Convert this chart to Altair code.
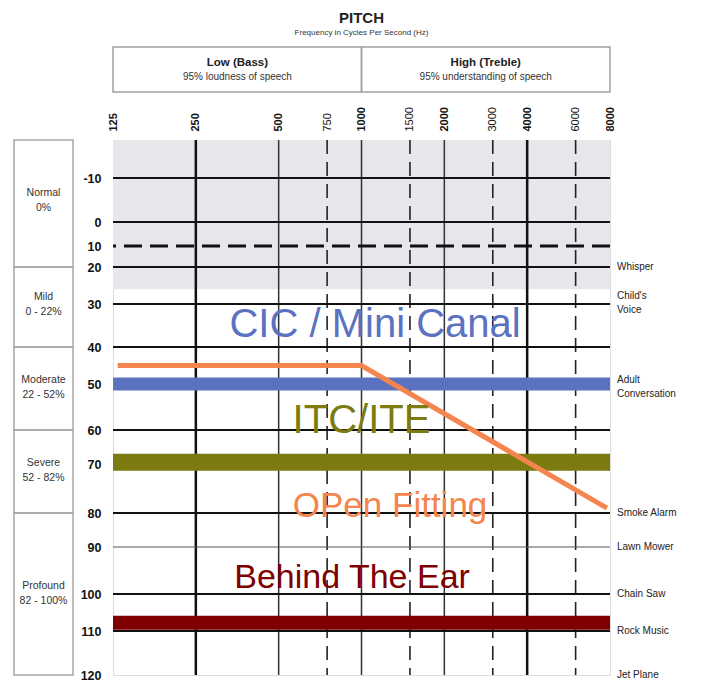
import altair as alt
import pandas as pd

# ---------------- data ----------------
freq_ticks = [125, 250, 500, 750, 1000, 1500, 2000, 3000, 4000, 6000, 8000]
freq_light = [750, 1500, 3000, 6000]
db_ticks = [-10, 0, 10, 20, 30, 40, 50, 60, 70, 80, 90, 100, 110, 120]

vgrid_thick = [250, 4000]
vgrid_thin = [500, 1000, 2000]
vgrid_dashed = [750, 1500, 3000, 6000]
hgrid_solid = [-10, 0, 20, 30, 40, 50, 60, 70, 80, 100, 110]
hgrid_thin = [90]
hgrid_dashed = [10]

shade_db = [-20, 26]

band_names = ["CIC / Mini Canal", "ITC/ITE", "Behind The Ear"]
band_db = [50, 69.5, 107.8]

open_fit_freq = [130, 1000, 7800]
open_fit_db = [45, 45, 79]

device_labels = ["CIC / Mini Canal", "ITC/ITE", "OPen Fitting", "Behind The Ear"]
device_label_freq = [1120, 1000, 1270, 924]
device_label_db = [34.8, 58, 78.5, 96.6]

right_labels = ["Whisper", "Child's\nVoice", "Adult\nConversation", "Smoke Alarm",
                "Lawn Mower", "Chain Saw", "Rock Music", "Jet Plane"]
right_db = [20, 27.8, 48.9, 80, 90, 100, 110, 120]

loss_names = ["Normal\n0%", "Mild\n0 - 22%", "Moderate\n22 - 52%",
              "Severe\n52 - 82%", "Profound\n82 - 100%"]
loss_top = [-20, 20, 40, 60, 80]
loss_bottom = [20, 40, 60, 80, 120]
loss_label_db = [-6.6, 28, 48.9, 69.7, 98.3]

header_titles = ["Low (Bass)", "High (Treble)"]
header_subs = ["95% loudness of speech", "95% understanding of speech"]
header_from = [125, 1000]
header_to = [1000, 8000]
header_center = [354, 2828]

title_text = "PITCH"
subtitle_text = "Frequency in Cycles Per Second (Hz)"

# ---------------- styling ----------------
BLUE = "#5b72c0"
OLIVE = "#7b7b0f"
ORANGE = "#f5854e"
DARKRED = "#7e0000"
band_colors = [BLUE, OLIVE, DARKRED]
band_widths = [13, 17, 14]
label_colors = [BLUE, OLIVE, ORANGE, DARKRED]
label_sizes = [40, 40, 35, 34]

W, H = 497, 535

xs = alt.Scale(type="log", base=2, domain=[125, 8000], nice=False)
ys = alt.Scale(
    domain=[-20, -10, 0, 10, 20, 30, 40, 50, 60, 70, 80, 90, 100, 110, 120],
    range=[0, 38, 82, 106, 127, 164, 207, 244, 290, 324, 373, 407, 454, 491, 535],
    zero=False, nice=False,
)

light_test = " || ".join(f"datum.value == {v}" for v in freq_light)
xaxis = alt.Axis(
    orient="top", values=freq_ticks, format="d", labelAngle=270, labelAlign="left",
    labelBaseline="middle", labelPadding=9, labelFontSize=11, labelColor="#111",
    labelFontWeight={"condition": {"test": light_test, "value": "normal"}, "value": "bold"},
    labelOverlap=False, labelFlush=False, domain=False, ticks=False, grid=False, title=None,
)
yaxis = alt.Axis(
    orient="left", values=db_ticks, labelExpr="'' + datum.value", labelPadding=12,
    labelFontSize=12.5, labelFontWeight="bold", labelColor="#111", labelOverlap=False,
    labelFlush=False, domain=False, ticks=False, grid=False, title=None,
)


def X(field, **kw):
    return alt.X(field, type="quantitative", scale=xs, axis=xaxis, **kw)


def Y(field, **kw):
    return alt.Y(field, type="quantitative", scale=ys, axis=yaxis, **kw)


layers = []

# shaded "normal hearing" zone
shade_df = pd.DataFrame({"f0": [125], "f1": [8000], "d0": [shade_db[0]], "d1": [shade_db[1]]})
layers.append(alt.Chart(shade_df).mark_rect(color="#e6e6eb").encode(
    x=X("f0"), x2="f1", y=Y("d0"), y2="d1"))

# grid lines
layers.append(alt.Chart(pd.DataFrame({"f": vgrid_thick})).mark_rule(
    color="#111", strokeWidth=2.5).encode(x=X("f")))
layers.append(alt.Chart(pd.DataFrame({"f": vgrid_thin})).mark_rule(
    color="#333", strokeWidth=1.5).encode(x=X("f")))
layers.append(alt.Chart(pd.DataFrame({"f": vgrid_dashed})).mark_rule(
    color="#222", strokeWidth=1.6, strokeDash=[14, 8]).encode(x=X("f")))
layers.append(alt.Chart(pd.DataFrame({"d": hgrid_solid})).mark_rule(
    color="#111", strokeWidth=2).encode(y=Y("d")))
layers.append(alt.Chart(pd.DataFrame({"d": hgrid_thin})).mark_rule(
    color="#555", strokeWidth=1).encode(y=Y("d")))
layers.append(alt.Chart(pd.DataFrame({"d": hgrid_dashed})).mark_rule(
    color="#111", strokeWidth=3, strokeDash=[18, 8]).encode(y=Y("d")))

# hearing aid bands
for name, db, col, sw in zip(band_names, band_db, band_colors, band_widths):
    bdf = pd.DataFrame({"f0": [125], "f1": [8000], "d": [db], "name": [name]})
    layers.append(alt.Chart(bdf).mark_rule(color=col, strokeWidth=sw).encode(
        x=X("f0"), x2="f1", y=Y("d")))

# open fitting line
of_df = pd.DataFrame({"f": open_fit_freq, "d": open_fit_db})
layers.append(alt.Chart(of_df).mark_line(color=ORANGE, strokeWidth=5).encode(
    x=X("f"), y=Y("d")))

# device labels
for txt, f, d, col, fs in zip(device_labels, device_label_freq, device_label_db,
                              label_colors, label_sizes):
    ldf = pd.DataFrame({"f": [f], "d": [d], "t": [txt]})
    layers.append(alt.Chart(ldf).mark_text(
        color=col, fontSize=fs, align="center", baseline="middle",
        font="Liberation Sans").encode(x=X("f"), y=Y("d"), text="t:N"))

# right-side sound examples
r_df = pd.DataFrame({"f": [8000] * len(right_labels), "d": right_db, "t": right_labels})
layers.append(alt.Chart(r_df).mark_text(
    align="left", baseline="middle", dx=7, fontSize=10, lineHeight=14,
    lineBreak="\n", color="#222").encode(x=X("f"), y=Y("d"), text="t:N"))

# left degree-of-loss boxes
lb_df = pd.DataFrame({"top": loss_top, "bot": loss_bottom})
layers.append(alt.Chart(lb_df).mark_rect(
    fillOpacity=0, stroke="#a8a8a8", strokeWidth=1.5).encode(
    x=alt.value(-99), x2=alt.value(-40), y=Y("top"), y2="bot"))
ll_df = pd.DataFrame({"d": loss_label_db, "t": loss_names})
layers.append(alt.Chart(ll_df).mark_text(
    align="center", baseline="middle", fontSize=10.5, lineHeight=15,
    lineBreak="\n", color="#333").encode(x=alt.value(-69.5), y=Y("d"), text="t:N"))

# header boxes
h_df = pd.DataFrame({"f0": header_from, "f1": header_to, "fc": header_center,
                     "t": header_titles, "s": header_subs})
layers.append(alt.Chart(h_df).mark_rect(
    fillOpacity=0, stroke="#a0a0a0", strokeWidth=1.5).encode(
    x=X("f0"), x2="f1", y=alt.value(-93), y2=alt.value(-48)))
layers.append(alt.Chart(h_df).mark_text(
    fontSize=11.5, fontWeight="bold", color="#222", baseline="middle").encode(
    x=X("fc"), y=alt.value(-77), text="t:N"))
layers.append(alt.Chart(h_df).mark_text(
    fontSize=10, color="#333", baseline="middle").encode(
    x=X("fc"), y=alt.value(-63), text="s:N"))

# title
t_df = pd.DataFrame({"t": [title_text], "s": [subtitle_text]})
layers.append(alt.Chart(t_df).mark_text(
    fontSize=15, fontWeight="bold", color="#222", baseline="middle").encode(
    x=alt.value(W / 2), y=alt.value(-122), text="t:N"))
layers.append(alt.Chart(t_df).mark_text(
    fontSize=8, color="#333", baseline="middle").encode(
    x=alt.value(W / 2), y=alt.value(-107), text="s:N"))

chart = alt.layer(*layers).properties(
    width=W, height=H,
    autosize=alt.AutoSizeParams(type="none"),
    padding={"left": 105, "top": 132, "right": 86, "bottom": 12},
    background="white",
).configure_view(stroke="#111", strokeWidth=2).configure(font="Liberation Sans")

chart.save("out.html", embed_options={"renderer": "svg", "actions": False})
